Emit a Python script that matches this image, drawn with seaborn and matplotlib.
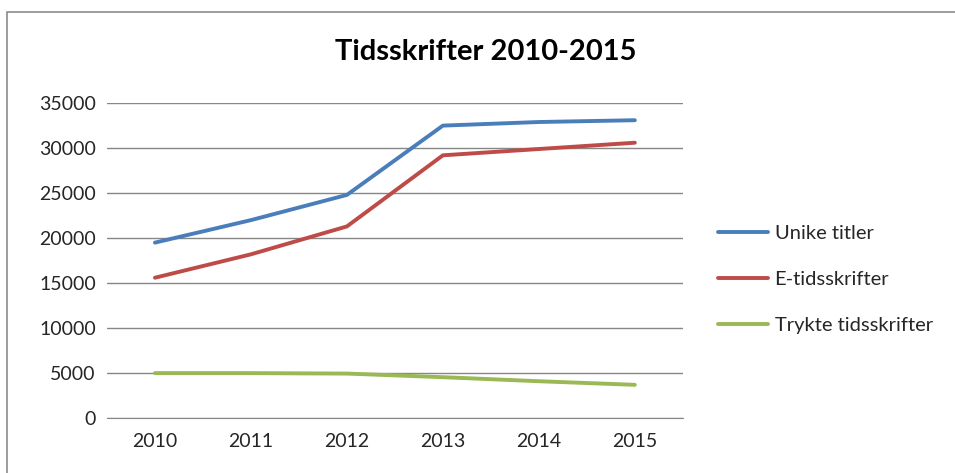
import pandas as pd
import matplotlib
matplotlib.use("Agg")
import matplotlib.pyplot as plt
import seaborn as sns
from matplotlib.patches import Rectangle

# verdier lest av figuren
aar = [2010, 2011, 2012, 2013, 2014, 2015]
unike_titler = [19500, 22000, 24800, 32500, 32900, 33100]
e_tidsskrifter = [15600, 18200, 21300, 29200, 29900, 30600]
trykte_tidsskrifter = [5000, 5000, 4950, 4550, 4100, 3700]
serier = ["Unike titler", "E-tidsskrifter", "Trykte tidsskrifter"]
farger = ["#4A7EBB", "#BE4B48", "#98B954"]
y_ticks = [0, 5000, 10000, 15000, 20000, 25000, 30000, 35000]

df = pd.DataFrame({
    "aar": aar * 3,
    "antall": unike_titler + e_tidsskrifter + trykte_tidsskrifter,
    "serie": [serier[0]] * 6 + [serier[1]] * 6 + [serier[2]] * 6,
})

sns.set_style("white")
plt.rcParams["font.family"] = ["Lato", "DejaVu Sans"]

fig = plt.figure(figsize=(9.55, 4.73), dpi=100)
ax = fig.add_axes([0.112, 0.116, 0.603, 0.666])

sns.lineplot(data=df, x="aar", y="antall", hue="serie", hue_order=serier,
             palette=dict(zip(serier, farger)), linewidth=2.8, ax=ax, legend=False)

ax.set_xlim(2009.5, 2015.5)
ax.set_ylim(0, 35000)
ax.set_yticks(y_ticks)
ax.set_xticks(aar)
ax.set_xticklabels([str(a) for a in aar])
ax.grid(axis="y", color="#878787", linewidth=1)
ax.set_axisbelow(True)
for s in ["top", "right", "left"]:
    ax.spines[s].set_visible(False)
ax.spines["bottom"].set_color("#878787")
ax.tick_params(axis="both", length=0, labelsize=14, colors="#262626")
ax.tick_params(axis="x", pad=11)
ax.tick_params(axis="y", pad=8)
ax.set_xlabel("")
ax.set_ylabel("")

fig.text(0.509, 0.89, "Tidsskrifter 2010-2015", ha="center", va="center",
         fontsize=21, fontweight="bold", color="black")

handles = [plt.Line2D([], [], color=c, linewidth=2.8) for c in farger]
fig.legend(handles, serier, loc="upper left", bbox_to_anchor=(0.733, 0.562),
           frameon=False, fontsize=14.5, handlelength=2.5, handletextpad=0.3,
           labelspacing=1.42)

# ramme rundt diagrammet
fig.patches.append(Rectangle((0.007, -0.05), 1.1, 1.025, transform=fig.transFigure,
                             fill=False, edgecolor="#8c8c8c", linewidth=1.2))

fig.savefig("out.png", dpi=100)
